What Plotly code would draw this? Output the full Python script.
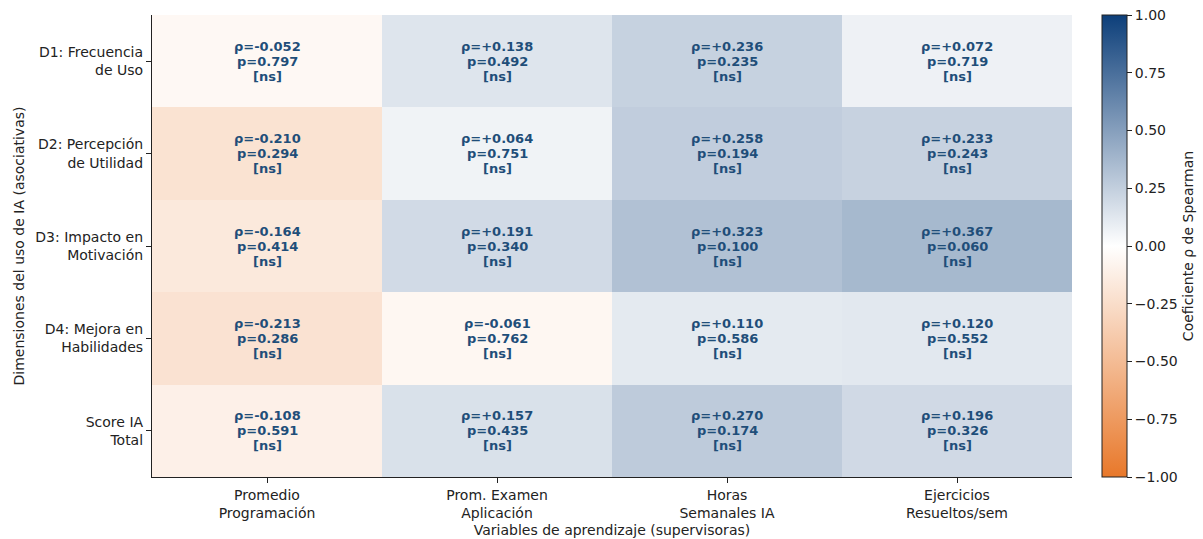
import plotly.graph_objects as go

rows = ["D1: Frecuencia<br>de Uso", "D2: Percepción<br>de Utilidad", "D3: Impacto en<br>Motivación",
        "D4: Mejora en<br>Habilidades", "Score IA<br>Total"]
cols = ["Promedio<br>Programación", "Prom. Examen<br>Aplicación", "Horas<br>Semanales IA",
        "Ejercicios<br>Resueltos/sem"]

rho = [
    [-0.052, 0.138, 0.236, 0.072],
    [-0.210, 0.064, 0.258, 0.233],
    [-0.164, 0.191, 0.323, 0.367],
    [-0.213, -0.061, 0.110, 0.120],
    [-0.108, 0.157, 0.270, 0.196],
]
pval = [
    [0.797, 0.492, 0.235, 0.719],
    [0.294, 0.751, 0.194, 0.243],
    [0.414, 0.340, 0.100, 0.060],
    [0.286, 0.762, 0.586, 0.552],
    [0.591, 0.435, 0.174, 0.326],
]
sig = [["[ns]"] * 4 for _ in range(5)]

colorscale = [[0.0, "#e8782a"], [0.5, "#ffffff"], [1.0, "#0d3f7a"]]
txt_color = "#1f4e79"
font_main = "DejaVu Sans"
lab_size = 14

fig = go.Figure()
fig.add_trace(go.Heatmap(
    z=rho, x=cols, y=rows, zmin=-1, zmax=1, colorscale=colorscale,
    xgap=0, ygap=0, hoverinfo="skip",
    colorbar=dict(
        x=1.033, xanchor="left", xpad=0, y=0.5, yanchor="middle", ypad=0,
        len=1, lenmode="fraction", thickness=25, outlinewidth=1, outlinecolor="#222",
        tickmode="array", tickvals=[-1, -0.75, -0.5, -0.25, 0, 0.25, 0.5, 0.75, 1],
        tickformat=".2f", ticks="outside", ticklen=5, tickcolor="#222",
        tickfont=dict(family=font_main, size=lab_size, color="#222"),
        title=dict(text="Coeficiente ρ de Spearman", side="right",
                   font=dict(family=font_main, size=lab_size, color="#222")),
    ),
))

for i in range(len(rows)):
    for j in range(len(cols)):
        r = rho[i][j]
        lines = [f"ρ={r:+.3f}" if r >= 0 else f"ρ={r:.3f}", f"p={pval[i][j]:.3f}", sig[i][j]]
        for k, s in enumerate(lines):
            fig.add_annotation(
                x=cols[j], y=rows[i], text=f"<b>{s}</b>", showarrow=False,
                yshift=15 - 15 * k,
                font=dict(family=font_main, size=13, color=txt_color),
            )

fig.update_layout(
    width=1203, height=539,
    margin=dict(l=152, r=131, t=15, b=62, autoexpand=False),
    paper_bgcolor="white", plot_bgcolor="white",
    font=dict(family=font_main, size=lab_size, color="#222"),
)
fig.update_xaxes(
    automargin=False,
    showline=True, linecolor="#222", linewidth=1.2, ticks="outside", ticklen=5, tickcolor="#222",
    showgrid=False, zeroline=False,
    tickfont=dict(family=font_main, size=lab_size, color="#222"),
    title=dict(text="Variables de aprendizaje (supervisoras)", standoff=5,
               font=dict(family=font_main, size=lab_size, color="#222")),
)
fig.update_yaxes(
    automargin=False,
    autorange="reversed",
    showline=True, linecolor="#222", linewidth=1.2, ticks="outside", ticklen=5, tickcolor="#222",
    showgrid=False, zeroline=False,
    tickfont=dict(family=font_main, size=lab_size, color="#222"),
    title=dict(text="Dimensiones del uso de IA (asociativas)", standoff=7,
               font=dict(family=font_main, size=lab_size, color="#222")),
)

fig.write_html("out.html")
